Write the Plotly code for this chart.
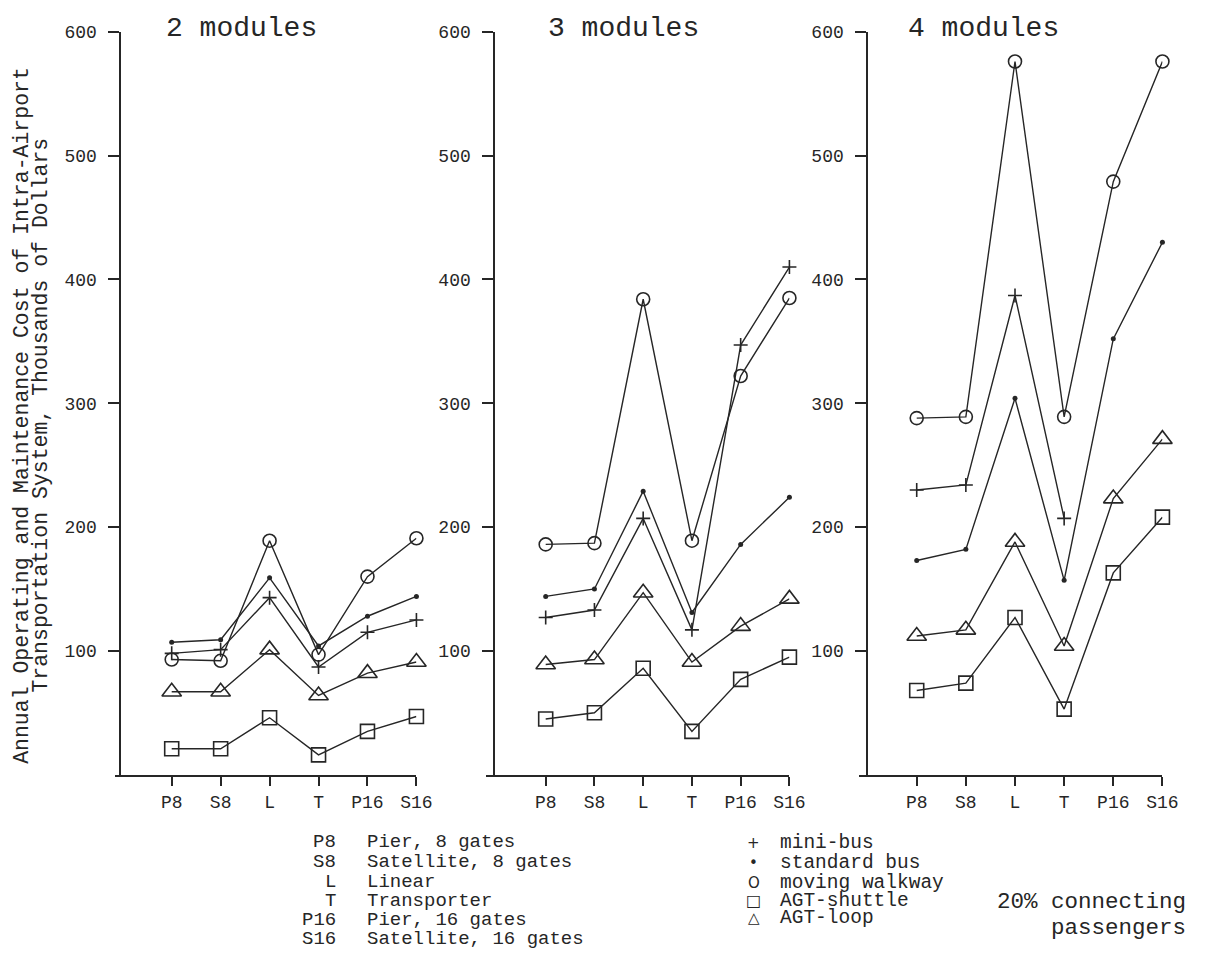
import plotly.graph_objects as go

# ---------------- data ----------------
categories = ["P8", "S8", "L", "T", "P16", "S16"]
y_ticks = [100, 200, 300, 400, 500, 600]
panel_titles = ["2 modules", "3 modules", "4 modules"]

mini_bus_2 = [98, 101, 143, 87, 115, 125]
standard_bus_2 = [107, 109, 159, 104, 128, 144]
walkway_2 = [93, 92, 189, 97, 160, 191]
agt_shuttle_2 = [21, 21, 46, 16, 35, 47]
agt_loop_2 = [67, 67, 101, 64, 82, 91]

mini_bus_3 = [127, 133, 207, 117, 347, 410]
standard_bus_3 = [144, 150, 229, 131, 186, 224]
walkway_3 = [186, 187, 384, 189, 322, 385]
agt_shuttle_3 = [45, 50, 86, 35, 77, 95]
agt_loop_3 = [89, 93, 147, 91, 120, 142]

mini_bus_4 = [230, 234, 387, 207, None, None]
standard_bus_4 = [173, 182, 304, 157, 352, 430]
walkway_4 = [288, 289, 576, 289, 479, 576]
agt_shuttle_4 = [68, 74, 127, 53, 163, 208]
agt_loop_4 = [112, 117, 188, 104, 223, 271]

site_codes = ["P8", "S8", "L", "T", "P16", "S16"]
site_names = ["Pier, 8 gates", "Satellite, 8 gates", "Linear", "Transporter",
              "Pier, 16 gates", "Satellite, 16 gates"]
mode_symbols = ["+", "•", "O", "□", "△"]
mode_names = ["mini-bus", "standard bus", "moving walkway", "AGT-shuttle", "AGT-loop"]

panels = [
    dict(mini=mini_bus_2, std=standard_bus_2, walk=walkway_2, shut=agt_shuttle_2, loop=agt_loop_2),
    dict(mini=mini_bus_3, std=standard_bus_3, walk=walkway_3, shut=agt_shuttle_3, loop=agt_loop_3),
    dict(mini=mini_bus_4, std=standard_bus_4, walk=walkway_4, shut=agt_shuttle_4, loop=agt_loop_4),
]

# ---------------- layout geometry (pixels) ----------------
W, H = 1210, 956
# (x-axis left end, y-axis x, first category x, last category x)
geom = [(117, 122, 174, 422), (493, 501, 553, 800), (871, 879, 929, 1178)]
title_x = [166, 553, 918]
y0_px, y600_px = 773, 23

INK = "#262626"
MONO = "Liberation Mono, Courier New, monospace"

def px(x):
    return x / W

def py(y):
    return 1 - y / H

fig = go.Figure()

styles = [
    ("walk", dict(symbol="circle-open", size=13, line=dict(width=1.6, color=INK))),
    ("std", dict(symbol="circle", size=5)),
    ("mini", dict(symbol="cross-thin-open", size=10, line=dict(width=1.6, color=INK))),
    ("loop", dict(symbol="triangle-up-open", size=17, line=dict(width=1.6, color=INK))),
    ("shut", dict(symbol="square-open", size=14, line=dict(width=1.6, color=INK))),
]

for i, pdata in enumerate(panels):
    xa = "x" if i == 0 else f"x{i+1}"
    ya = "y" if i == 0 else f"y{i+1}"
    for key, mk in styles:
        marker = dict(mk)
        marker.setdefault("color", INK)
        fig.add_trace(go.Scatter(
            x=categories, y=pdata[key], mode="lines+markers",
            line=dict(color=INK, width=1.4),
            marker=marker,
            connectgaps=False, cliponaxis=False, showlegend=False,
            hoverinfo="skip",
            xaxis=xa, yaxis=ya,
        ))

layout = dict(
    width=W, height=H, margin=dict(l=0, r=0, t=0, b=0),
    paper_bgcolor="white", plot_bgcolor="white",
    font=dict(family=MONO, color=INK, size=18),
    showlegend=False,
)

for i, (xl, yx, c0, c5) in enumerate(geom):
    unit = (c5 - c0) / 5
    xname = "xaxis" if i == 0 else f"xaxis{i+1}"
    yname = "yaxis" if i == 0 else f"yaxis{i+1}"
    yref = "y" if i == 0 else f"y{i+1}"
    layout[xname] = dict(
        domain=[px(xl), px(c5)], anchor=yref, type="category",
        range=[-(c0 - xl) / unit, 5],
        showline=True, linecolor=INK, linewidth=2,
        ticks="outside", ticklen=9, tickwidth=2, tickcolor=INK,
        showgrid=False, zeroline=False,
        tickfont=dict(family=MONO, size=18, color=INK),
        ticklabelstandoff=1,
    )
    layout[yname] = dict(
        domain=[py(y0_px), py(y600_px)], anchor="free", position=px(yx),
        range=[0, 600], tickvals=y_ticks,
        showline=True, linecolor=INK, linewidth=2,
        ticks="outside", ticklen=11, tickwidth=2, tickcolor=INK,
        showgrid=False, zeroline=False,
        tickfont=dict(family=MONO, size=18, color=INK),
        ticklabelstandoff=8,
    )

fig.update_layout(**layout)

ann = []
for i, t in enumerate(panel_titles):
    ann.append(dict(x=px(title_x[i]), y=py(20), xref="paper", yref="paper",
                    text=t, showarrow=False, xanchor="left", yanchor="middle",
                    font=dict(family=MONO, size=28, color=INK)))

# y-axis title, two rotated lines
ann.append(dict(x=px(22), y=py(410), xref="paper", yref="paper",
                text="Annual Operating and Maintenance Cost of Intra-Airport",
                showarrow=False, textangle=-90, xanchor="center", yanchor="middle",
                font=dict(family=MONO, size=21.5, color=INK)))
ann.append(dict(x=px(42), y=py(410), xref="paper", yref="paper",
                text="Transportation System, Thousands of Dollars",
                showarrow=False, textangle=-90, xanchor="center", yanchor="middle",
                font=dict(family=MONO, size=21.5, color=INK)))

# site abbreviation key
key_y = [841, 861, 881, 900, 920, 939]
for code, name, yy in zip(site_codes, site_names, key_y):
    ann.append(dict(x=px(343), y=py(yy), xref="paper", yref="paper", text=code,
                    showarrow=False, xanchor="right", yanchor="middle",
                    font=dict(family=MONO, size=19, color=INK)))
    ann.append(dict(x=px(370), y=py(yy), xref="paper", yref="paper", text=name,
                    showarrow=False, xanchor="left", yanchor="middle",
                    font=dict(family=MONO, size=19, color=INK)))

# mode key
mode_y = [842, 862, 882, 900, 918]
sym_sizes = [15, 15, 15, 16, 15]
for sym, name, yy, ss in zip(mode_symbols, mode_names, mode_y, sym_sizes):
    ann.append(dict(x=px(764), y=py(yy), xref="paper", yref="paper", text=sym,
                    showarrow=False, xanchor="center", yanchor="middle",
                    font=dict(family="DejaVu Sans", size=ss, color=INK)))
    ann.append(dict(x=px(788), y=py(yy), xref="paper", yref="paper", text=name,
                    showarrow=False, xanchor="left", yanchor="middle",
                    font=dict(family=MONO, size=19.5, color=INK)))

ann.append(dict(x=px(1204), y=py(901), xref="paper", yref="paper", text="20% connecting",
                showarrow=False, xanchor="right", yanchor="middle",
                font=dict(family=MONO, size=22.5, color=INK)))
ann.append(dict(x=px(1204), y=py(928), xref="paper", yref="paper", text="passengers",
                showarrow=False, xanchor="right", yanchor="middle",
                font=dict(family=MONO, size=22.5, color=INK)))

fig.update_layout(annotations=ann)

fig.write_html(
    "out.html",
    config={"displayModeBar": False, "staticPlot": True},
    post_script="document.body.style.margin='0';document.body.style.overflow='hidden';",
)
